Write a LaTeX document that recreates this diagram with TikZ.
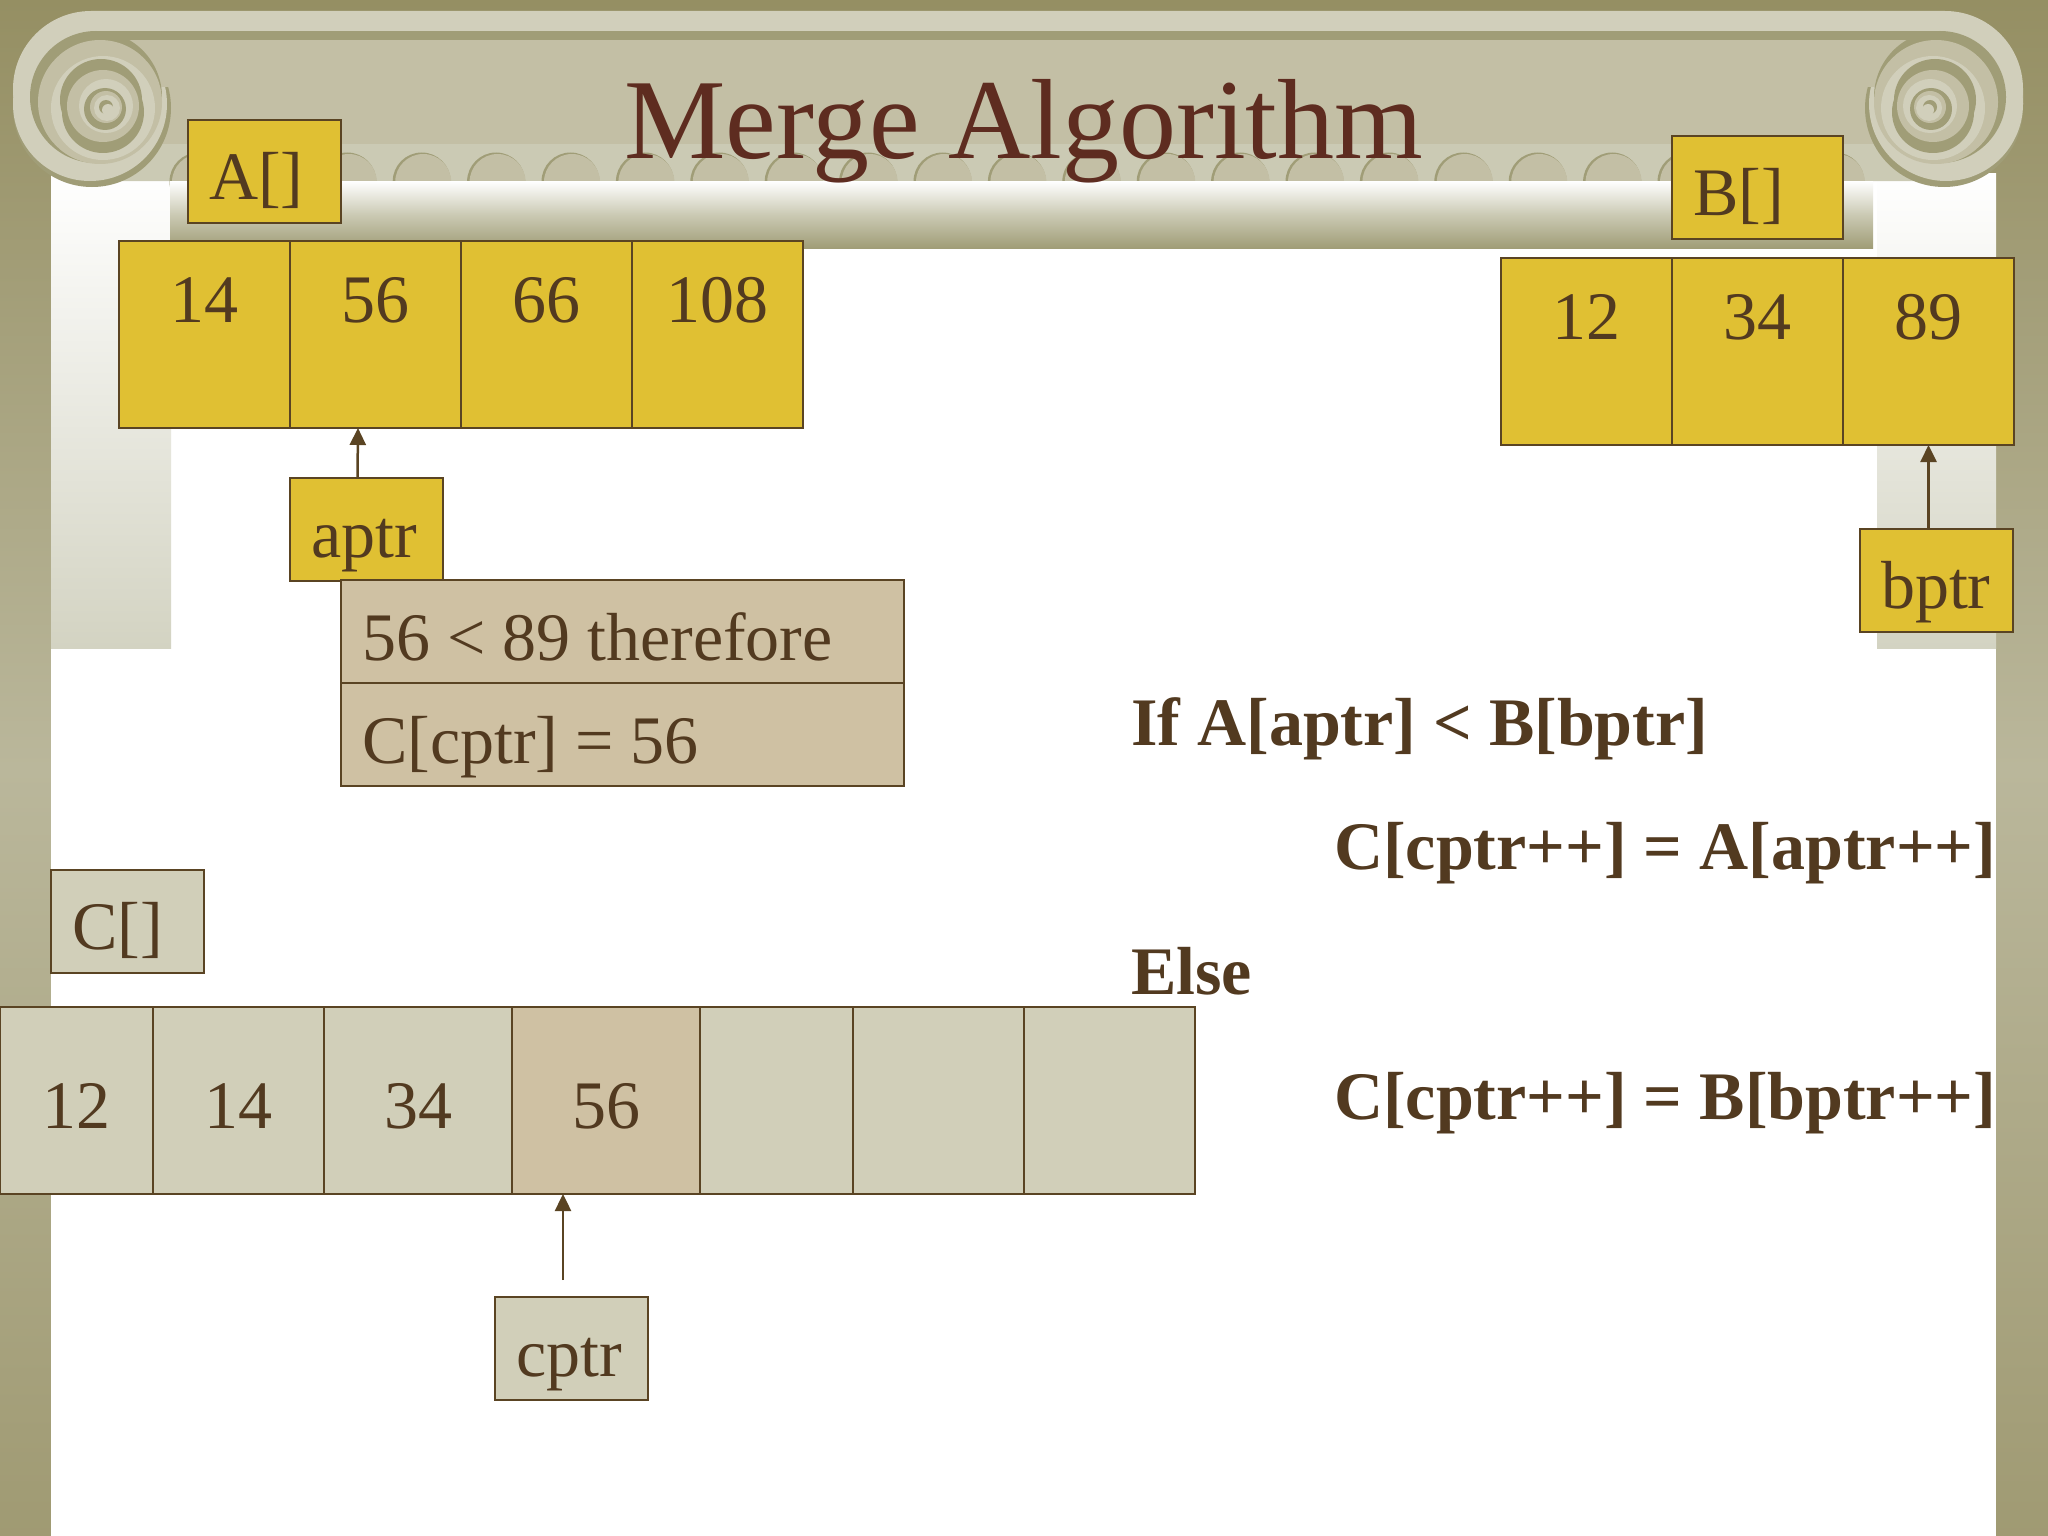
\documentclass[tikz,border=0pt]{standalone}
\usepackage{fontspec}
\setmainfont{Liberation Serif}
\usetikzlibrary{arrows.meta,calc,positioning}
\definecolor{olive}{HTML}{A09D77}
\definecolor{olivetop}{HTML}{958F63}
\definecolor{olivemid}{HTML}{BAB79B}
\definecolor{stonelight}{HTML}{D1CFBB}
\definecolor{stone}{HTML}{C3BFA5}
\definecolor{stonestrip}{HTML}{CBCAB4}
\definecolor{columnfoot}{HTML}{D3D3C2}
\definecolor{boxgold}{HTML}{E0C033}
\definecolor{boxpale}{HTML}{D1CFB9}
\definecolor{boxtan}{HTML}{CFC1A3}
\definecolor{linebrown}{HTML}{5A4423}
\definecolor{textbrown}{HTML}{523A20}
\definecolor{titlebrown}{HTML}{5E2C20}
\newcommand{\bodyfont}{\fontsize{68}{80}\selectfont}
\tikzstyle{cell}=[
  draw=linebrown,
  font=\bodyfont,
  inner sep=0pt,
  line width=2.5pt,
  minimum width=171pt,
  outer sep=0pt,
  rectangle,
  text=textbrown,
  text centered,
]
\tikzstyle{acell}=[
  cell,
  fill=boxgold,
  text height=81pt,
  text depth=106pt,
]
\tikzstyle{ccell}=[
  cell,
  fill=boxpale,
  text height=121pt,
  text depth=66pt,
]
\tikzstyle{tag}=[
  draw=linebrown,
  font=\bodyfont,
  align=left,
  anchor=north west,
  inner xsep=21pt,
  inner ysep=0pt,
  line width=2.5pt,
  outer sep=0pt,
  rectangle,
  text=textbrown,
  text width=111pt,
  text height=79pt,
  text depth=24pt,
]
\tikzstyle{note}=[
  tag,
  execute at begin node={\spaceskip=17pt\relax},
  fill=boxtan,
  text width=521pt,
  text height=80pt,
  text depth=23pt,
]
\tikzstyle{ptr}=[
  color=linebrown,
  line width=2.5pt,
]
\tikzstyle{code}=[
  anchor=base west,
  font=\bodyfont\bfseries,
  inner sep=0pt,
  text=textbrown,
]
\tikzset{
  >={Triangle[length=17pt,width=16pt]},
}
\begin{document}
\begin{tikzpicture}[x=1pt,y=-1pt]
  \useasboundingbox (0,0) rectangle (2048,1536);
  % slide frame
  \shade [top color=olivetop, bottom color=olivetop!90!white, middle color=olivemid] (0,0) rectangle (2048,1536);
  \fill [white] (51,173) rectangle (1996,1536);
  \shade [top color=white, bottom color=columnfoot] (51,173) rectangle (171,648);
  \shade [top color=white, bottom color=columnfoot] (1877,173) rectangle (1996,648);
  % capital
  \fill [stonelight, rounded corners=78pt] (13,11) rectangle (2023,181);
  \fill [olive] (90,31) rectangle (1946,40);
  \fill [stone] (90,40) rectangle (1946,144);
  \fill [stonestrip] (90,144) rectangle (1946,181);
  \foreach \x in {0,...,22} {
    \fill [olive] ({200+74.4*\x-1.5},181.5) circle (29);
    \fill [stone] ({200+74.4*\x},182) circle (28);
  }
  \shade [top color=white, bottom color=olive, middle color=stonestrip] (170,181) rectangle (1873,248);
  \foreach \ox/\sx in {0/1,2036/-1} {
    \begin{scope}[shift={(\ox,0)},xscale=\sx]
      \fill [olive] (92,108) circle (79);
      \fill [stonelight] (90,104) circle (77);
      \fill [stone] (96,40) rectangle (175,87);
      \fill [olive] (96,31) rectangle (175,40);
      \fill [olive] (96,97) circle (66);
      \fill [stone] (100,102) circle (62);
      \fill [stonelight] (103,108) circle (52);
      \fill [olive] (101,100) circle (41);
      \fill [olive] (103,112) circle (41);
      \fill [stone] (103,106) circle (36);
      \fill [stonelight] (106,106) circle (27);
      \fill [olive] (105,109) circle (21);
      \fill [stone] (106,107) circle (16);
      \fill [stonelight] (107,108) circle (13);
      \fill [olive] (106,107) circle (7);
      \fill [stonelight] (108,110) circle (6);
    \end{scope}
  }
  \node (title) [anchor=base west, inner sep=0pt, text=titlebrown, font=\fontsize{114}{124}\selectfont] at (624,158) {Merge Algorithm};
  % array A
  \node (a1) [acell, anchor=north west] at (119,241) {14};
  \node (a2) [acell, right=0pt of a1] {56};
  \node (a3) [acell, right=0pt of a2] {66};
  \node (a4) [acell, right=0pt of a3] {108};
  \node (alabel) [tag, fill=boxgold] at (188,120) {A[]};
  \node (aptr) [tag, fill=boxgold] at (290,478) {aptr};
  \draw [->, ptr] ([xshift=-9pt]aptr.north) -- ([xshift=-17.5pt]a2.south);
  % array B
  \node (b1) [acell, anchor=north west] at (1501,258) {12};
  \node (b2) [acell, right=0pt of b1] {34};
  \node (b3) [acell, right=0pt of b2] {89};
  \node (blabel) [tag, fill=boxgold, text width=129pt] at (1672,136) {B[]};
  \node (bptr) [tag, fill=boxgold] at (1860,529) {bptr};
  \draw [->, ptr] ([xshift=-8pt]bptr.north) -- (b3.south);
  % comparison
  \node (cmp1) [note] at (341,580) {56 < 89 therefore};
  \node (cmp2) [note, below=0pt of cmp1] {C[cptr] = 56};
  % array C
  \node (clabel) [tag, fill=boxpale] at (51,870) {C[]};
  \node (c1) [ccell, anchor=north west, minimum width=153pt] at (0,1007) {12};
  \node (c2) [ccell, right=0pt of c1] {14};
  \node (c3) [ccell, right=0pt of c2, minimum width=188pt] {34};
  \node (c4) [ccell, right=0pt of c3, minimum width=188pt, fill=boxtan] {56};
  \node (c5) [ccell, right=0pt of c4, minimum width=153pt] {};
  \node (c6) [ccell, right=0pt of c5] {};
  \node (c7) [ccell, right=0pt of c6] {};
  \node (cptr) [tag, fill=boxpale] at (495,1297) {cptr};
  \coordinate (ctail) at (563,1280);
  \draw [->, ptr] (ctail) -- ([xshift=-43pt]c4.south);
  % pseudo code
  \node (ifline) [code] at (1131,745) {If A[aptr] < B[bptr]};
  \node (thenline) [code] at (1334,869) {C[cptr++] = A[aptr++]};
  \node (elseline) [code] at (1131,994) {Else};
  \node (otherline) [code] at (1334,1119) {C[cptr++] = B[bptr++]};
\end{tikzpicture}
\end{document}
